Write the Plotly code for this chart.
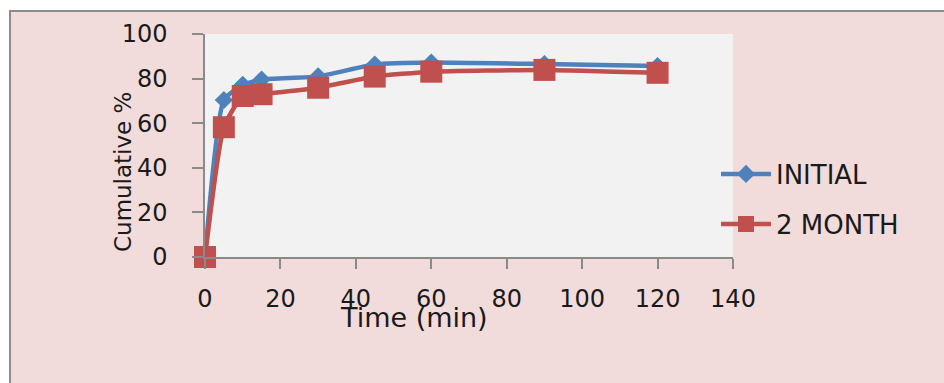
import plotly.graph_objects as go

# ---- data ----
time_min = [0, 5, 10, 15, 30, 45, 60, 90, 120]
initial = [0, 70.4, 77.2, 79.6, 81.0, 86.3, 87.2, 86.5, 85.6]
two_month = [0, 58.2, 72.2, 73.0, 75.9, 80.9, 83.1, 83.9, 82.6]
x_ticks = [0, 20, 40, 60, 80, 100, 120, 140]
y_ticks = [0, 20, 40, 60, 80, 100]

W, H = 944, 383
L, R, T, B = 205, 211, 34, 126
pw, ph = W - L - R, H - T - B

def px_x(p):
    return (p - L) / pw

def px_y(q):
    return (H - B - q) / ph

BLUE = "#4f81bd"
RED = "#c0504d"
FONT = "DejaVu Sans"
TXT = "#1a1a1a"

fig = go.Figure()
fig.add_trace(go.Scatter(
    x=time_min, y=initial, name="INITIAL", mode="lines+markers",
    line=dict(color=BLUE, width=4.5, shape="spline", smoothing=0.5),
    marker=dict(symbol="diamond", size=14, color=BLUE),
    cliponaxis=False, legend="legend"))
fig.add_trace(go.Scatter(
    x=time_min, y=two_month, name="2 MONTH", mode="lines+markers",
    line=dict(color=RED, width=4.5, shape="spline", smoothing=0.5),
    marker=dict(symbol="square", size=22, color=RED),
    cliponaxis=False, legend="legend2"))

axis_common = dict(showgrid=False, zeroline=False, showline=True,
                   linecolor="#8a8a8a", linewidth=1.5, ticks="outside",
                   tickcolor="#8a8a8a", tickwidth=1.5,
                   tickfont=dict(family=FONT, size=24, color=TXT))

fig.update_layout(
    width=W, height=H,
    margin=dict(l=L, r=R, t=T, b=B, pad=0),
    paper_bgcolor="#f2dcdb", plot_bgcolor="#f2f2f2",
    showlegend=True,
    xaxis=dict(range=[0, 140], tickvals=x_ticks, ticklen=10,
               ticklabelstandoff=9, **axis_common),
    yaxis=dict(range=[0, 100], tickvals=y_ticks, ticklen=11,
               ticklabelstandoff=20, **axis_common),
    legend=dict(x=px_x(716), y=px_y(174), xanchor="left", yanchor="middle",
                bgcolor="rgba(0,0,0,0)", itemwidth=50,
                font=dict(family=FONT, size=26, color=TXT)),
    legend2=dict(x=px_x(716), y=px_y(224), xanchor="left", yanchor="middle",
                 bgcolor="rgba(0,0,0,0)", itemwidth=50,
                 font=dict(family=FONT, size=26, color=TXT)),
    shapes=[
        dict(type="rect", xref="paper", yref="paper", x0=px_x(-5), x1=px_x(W + 5),
             y0=px_y(10), y1=px_y(-5), fillcolor="white", line_width=0, layer="above"),
        dict(type="rect", xref="paper", yref="paper", x0=px_x(-5), x1=px_x(9),
             y0=px_y(H + 5), y1=px_y(-5), fillcolor="white", line_width=0, layer="above"),
        dict(type="line", xref="paper", yref="paper", x0=px_x(9), x1=px_x(W + 5),
             y0=px_y(11), y1=px_y(11), line=dict(color="#8c8c8c", width=2), layer="above"),
        dict(type="line", xref="paper", yref="paper", x0=px_x(10), x1=px_x(10),
             y0=px_y(10), y1=px_y(H + 5), line=dict(color="#8c8c8c", width=2), layer="above"),
    ],
    annotations=[
        dict(text="Time (min)", xref="paper", yref="paper", x=px_x(414), y=px_y(317),
             xanchor="center", yanchor="middle", showarrow=False,
             font=dict(family=FONT, size=27, color=TXT)),
        dict(text="Cumulative %", xref="paper", yref="paper", x=px_x(123), y=px_y(172),
             xanchor="center", yanchor="middle", showarrow=False, textangle=-90,
             font=dict(family=FONT, size=23, color=TXT)),
    ],
)

fig.write_html("out.html")
